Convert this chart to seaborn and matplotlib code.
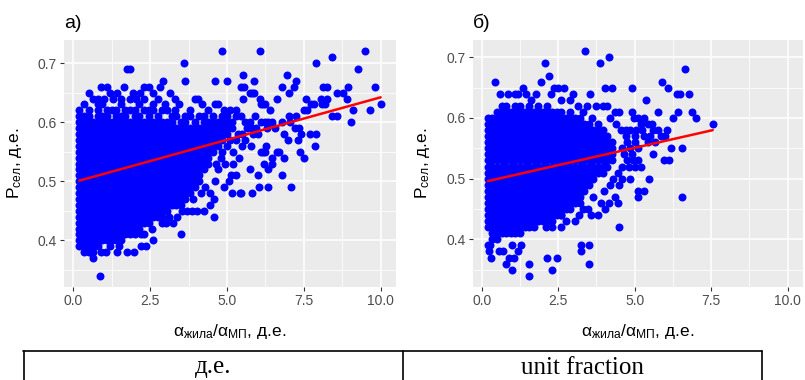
import numpy as np
import pandas as pd
import matplotlib
matplotlib.use("Agg")
import matplotlib.pyplot as plt
import seaborn as sns
from matplotlib.lines import Line2D
from matplotlib.ticker import FixedLocator

# ---------------- data ----------------
# dense vertical stacks: x position, lowest and highest y (in hundredths, y is quantised to 0.01)
a_run_x = [0.20, 0.35, 0.50, 0.65, 0.80, 0.95, 1.10, 1.25, 1.40, 1.55, 1.70, 1.85, 2.00, 2.15,
           2.30, 2.45, 2.60, 2.75, 2.90, 3.05, 3.20, 3.35, 3.50, 3.65, 3.80, 3.95, 4.10, 4.25,
           4.40, 4.55, 4.70, 4.85, 5.00, 5.15]
a_run_lo = [39, 38, 38, 38, 39, 40, 40, 40, 40, 40, 41, 41, 41, 42, 43, 44, 44, 45, 44, 45, 46, 46,
            46, 47, 48, 49, 50, 52, 53, 55, 56, 57, 58, 59]
a_run_hi = [62, 61, 62, 60, 63, 61, 62, 60, 62, 61, 62, 60, 62, 61, 60, 62, 60, 61, 60, 60, 61, 59,
            60, 61, 59, 60, 59, 61, 60, 61, 60, 61, 61, 60]

a_pts_x = [0.54, 0.65, 0.87, 0.90, 1.06, 1.20, 1.41, 1.50, 1.76, 1.97, 2.19, 2.38, 2.60, 2.30, 2.56,
           2.20, 2.45, 2.75, 3.03, 3.25, 3.39, 3.50, 3.10, 2.90, 3.55, 3.70, 3.85, 4.02, 4.24, 4.44,
           4.58, 4.58, 3.90, 4.15, 4.30, 4.45, 4.60, 4.70, 4.65, 4.80, 4.92, 5.16, 5.06, 5.12, 5.31,
           4.85, 5.00, 5.20, 5.30, 5.10, 5.40, 4.95, 5.20, 5.50, 5.35, 5.50, 5.65, 5.80, 5.95, 5.60,
           5.75, 5.30, 5.45, 5.90, 6.10,
           0.50, 0.65, 0.82, 0.89, 1.00, 1.10, 1.19, 1.30, 1.41, 1.55, 1.66, 1.75, 1.85, 1.85, 1.93,
           2.05, 2.16, 2.29, 2.30, 2.46, 2.60, 2.60, 2.75, 2.81, 2.92, 3.00, 3.16, 3.30, 3.30, 3.45,
           3.59, 3.65, 3.80, 3.95, 4.05, 4.20, 4.40, 4.60, 4.70, 4.85, 5.01, 4.60, 4.90, 5.10, 5.30,
           5.52, 5.45, 5.55, 5.52, 5.74, 5.81, 5.88, 5.88, 6.06, 6.07, 6.10, 6.17, 6.25, 6.40, 6.64,
           6.79, 6.94, 7.03, 7.18, 7.24, 7.56, 7.52, 7.59, 7.75, 7.84, 7.91, 8.06, 8.10, 8.13, 8.20,
           8.24, 8.26, 8.41, 8.43, 8.58, 8.58, 8.76, 8.89, 8.93, 9.04, 9.10, 9.28, 9.48, 9.64, 9.83,
           10.00,
           6.25, 6.35, 6.45, 6.30, 6.55, 6.80, 7.05, 7.03, 7.26, 7.20, 7.35, 6.87, 7.42, 7.70, 7.90,
           6.99, 7.30, 5.77, 5.58, 5.85, 6.00, 6.27, 7.85, 6.10, 6.17, 6.25, 6.64, 6.71, 7.37, 6.48,
           6.85, 7.50, 6.48, 6.20, 5.74, 6.00, 6.79, 6.03, 6.34, 7.07, 5.83, 5.41, 5.45, 6.34,
           0.35, 0.95, 1.25, 1.55, 1.85, 2.15, 2.30, 2.60, 2.90, 3.05, 3.35, 3.80, 4.10]
a_pts_y = [0.38, 0.37, 0.34, 0.38, 0.38, 0.39, 0.38, 0.39, 0.38, 0.38, 0.39, 0.39, 0.40, 0.41, 0.42,
           0.41, 0.43, 0.44, 0.43, 0.43, 0.44, 0.41, 0.44, 0.43, 0.45, 0.45, 0.45, 0.45, 0.45, 0.46,
           0.44, 0.47, 0.47, 0.48, 0.49, 0.48, 0.50, 0.52, 0.53, 0.54, 0.49, 0.48, 0.50, 0.51, 0.51,
           0.55, 0.56, 0.55, 0.57, 0.57, 0.54, 0.53, 0.53, 0.56, 0.58, 0.58, 0.59, 0.59, 0.59, 0.60,
           0.60, 0.61, 0.61, 0.61, 0.60,
           0.65, 0.64, 0.64, 0.66, 0.64, 0.66, 0.65, 0.64, 0.65, 0.64, 0.66, 0.69, 0.69, 0.64, 0.65,
           0.64, 0.65, 0.66, 0.64, 0.66, 0.63, 0.65, 0.64, 0.66, 0.67, 0.63, 0.65, 0.62, 0.64, 0.63,
           0.70, 0.67, 0.62, 0.64, 0.64, 0.63, 0.62, 0.67, 0.63, 0.72, 0.67, 0.63, 0.62, 0.62, 0.62,
           0.64, 0.66, 0.66, 0.68, 0.65, 0.65, 0.65, 0.67, 0.64, 0.72, 0.63, 0.63, 0.63, 0.62, 0.64,
           0.66, 0.68, 0.65, 0.66, 0.67, 0.64, 0.62, 0.62, 0.63, 0.63, 0.70, 0.64, 0.63, 0.66, 0.63,
           0.66, 0.64, 0.71, 0.61, 0.61, 0.65, 0.65, 0.64, 0.66, 0.60, 0.62, 0.69, 0.72, 0.62, 0.66,
           0.63,
           0.60, 0.60, 0.60, 0.59, 0.59, 0.60, 0.60, 0.61, 0.61, 0.59, 0.59, 0.58, 0.58, 0.58, 0.58,
           0.57, 0.57, 0.56, 0.57, 0.58, 0.58, 0.56, 0.56, 0.55, 0.55, 0.55, 0.55, 0.55, 0.55, 0.54,
           0.54, 0.54, 0.53, 0.53, 0.52, 0.51, 0.51, 0.49, 0.49, 0.49, 0.48, 0.48, 0.48, 0.52,
           0.63, 0.63, 0.62, 0.63, 0.62, 0.63, 0.62, 0.62, 0.62, 0.62, 0.61, 0.61, 0.61]

b_run_x = [0.20, 0.35, 0.50, 0.65, 0.80, 0.95, 1.10, 1.25, 1.40, 1.55, 1.70, 1.85, 2.00, 2.15,
           2.30, 2.45, 2.60, 2.75, 2.90, 3.05, 3.20, 3.35, 3.50, 3.65, 3.80, 3.95, 4.10, 4.25]
b_run_lo = [42, 41, 40, 41, 41, 41, 41, 41, 42, 42, 42, 43, 43, 43, 43, 44, 44, 45, 45, 46, 46, 48,
            49, 50, 51, 51, 52, 53]
b_run_hi = [60, 60, 61, 62, 62, 61, 62, 62, 61, 62, 61, 62, 61, 62, 61, 61, 61, 60, 61, 60, 60, 59,
            59, 58, 59, 58, 57, 56]

b_pts_x = [0.22, 0.27, 0.25, 0.30, 0.35, 0.55, 0.70, 0.81, 0.90, 0.99, 1.06, 1.00, 1.20, 1.30,
           1.53, 1.53, 2.13, 2.29, 2.45, 2.10, 2.30, 2.58, 2.75, 2.60, 3.05, 3.18, 3.30, 3.24, 3.50,
           3.24, 3.50, 3.47, 3.56, 3.80, 3.65, 3.90, 4.03, 4.16, 4.45, 4.50, 4.00, 4.20, 4.35, 4.30,
           4.50, 4.45, 4.60, 4.60, 4.80, 4.85, 4.75, 4.95, 5.10, 5.00, 5.20, 5.46, 5.31, 5.11, 5.11,
           0.43, 0.60, 0.85, 1.10, 1.20, 1.35, 1.45, 1.60, 1.78, 1.93, 2.07, 2.20, 2.25, 2.35, 2.50,
           2.70, 2.60, 2.90, 3.00, 3.15, 3.36, 3.30, 3.45, 3.55, 3.60, 3.75, 3.87, 4.03, 4.16, 4.27,
           3.95, 4.10, 4.20, 4.35, 4.50, 4.40, 4.55, 4.70, 4.85, 4.90, 4.90, 4.98, 5.05, 5.20, 5.25,
           5.37, 5.45, 5.50, 5.66, 5.60, 5.77, 5.90, 6.09, 6.25, 6.41, 6.39, 6.47, 6.63, 6.76, 6.87,
           7.01, 7.56,
           4.60, 4.75, 4.85, 5.00, 5.10, 5.30, 5.45, 4.70, 5.00, 4.65, 4.90, 5.95, 6.13, 6.19, 6.53,
           6.54, 5.60, 5.75, 5.85, 6.00, 6.05, 5.55, 5.30, 5.10]
b_pts_y = [0.39, 0.39, 0.38, 0.37, 0.40, 0.38, 0.38, 0.36, 0.37, 0.35, 0.37, 0.39, 0.38, 0.39,
           0.36, 0.34, 0.37, 0.35, 0.37, 0.42, 0.42, 0.42, 0.43, 0.44, 0.43, 0.44, 0.45, 0.39, 0.39,
           0.38, 0.36, 0.45, 0.44, 0.44, 0.47, 0.46, 0.45, 0.46, 0.46, 0.42, 0.48, 0.49, 0.47, 0.50,
           0.49, 0.51, 0.50, 0.52, 0.52, 0.50, 0.53, 0.53, 0.53, 0.52, 0.52, 0.50, 0.48, 0.48, 0.47,
           0.66, 0.64, 0.64, 0.64, 0.64, 0.65, 0.64, 0.63, 0.64, 0.66, 0.69, 0.67, 0.64, 0.65, 0.65,
           0.65, 0.63, 0.63, 0.64, 0.62, 0.71, 0.61, 0.62, 0.64, 0.60, 0.62, 0.69, 0.65, 0.70, 0.65,
           0.62, 0.62, 0.60, 0.61, 0.61, 0.59, 0.58, 0.58, 0.58, 0.61, 0.65, 0.60, 0.58, 0.59, 0.58,
           0.63, 0.59, 0.57, 0.56, 0.54, 0.61, 0.66, 0.65, 0.60, 0.61, 0.64, 0.64, 0.68, 0.64, 0.61,
           0.60, 0.59,
           0.55, 0.56, 0.55, 0.56, 0.55, 0.57, 0.56, 0.57, 0.57, 0.54, 0.54, 0.53, 0.53, 0.55, 0.55,
           0.47, 0.58, 0.58, 0.57, 0.57, 0.58, 0.59, 0.60, 0.60]

# fitted lines (end points)
a_line_x = [0.2, 10.0]
a_line_y = [0.501, 0.642]
b_line_x = [0.2, 7.55]
b_line_y = [0.496, 0.580]

titles = ["а)", "б)"]
x_ticks = [0.0, 2.5, 5.0, 7.5, 10.0]
x_ticklabels = ["0.0", "2.5", "5.0", "7.5", "10.0"]
y_ticks = [0.4, 0.5, 0.6, 0.7]
y_ticklabels = ["0.4", "0.5", "0.6", "0.7"]
table_cells = ["д.е.", "unit fraction"]


def build(run_x, run_lo, run_hi, px, py):
    xs, ys = [], []
    for x, lo, hi in zip(run_x, run_lo, run_hi):
        for v in range(lo, hi + 1):
            xs.append(x)
            ys.append(v / 100)
    xs += list(px)
    ys += list(py)
    return pd.DataFrame({"x": xs, "y": ys})


df_a = build(a_run_x, a_run_lo, a_run_hi, a_pts_x, a_pts_y)
df_b = build(b_run_x, b_run_lo, b_run_hi, b_pts_x, b_pts_y)

# ---------------- style ----------------
sns.set_theme(style="darkgrid")
plt.rcParams["font.family"] = ["Liberation Sans", "DejaVu Sans"]
plt.rcParams["mathtext.fontset"] = "custom"
plt.rcParams["mathtext.rm"] = "Liberation Sans"
plt.rcParams["mathtext.it"] = "Liberation Sans:italic"
plt.rcParams["mathtext.bf"] = "Liberation Sans:bold"

W, H = 805, 380
fig = plt.figure(figsize=(W / 100, H / 100), dpi=100)
fig.patch.set_facecolor("white")

panels = [
    (df_a, a_line_x, a_line_y, (64, 396), (0.321, 0.739)),
    (df_b, b_line_x, b_line_y, (472.5, 803), (0.3215, 0.7285)),
]
top_px, bot_px = 40, 287

xlabel = r"$\mathrm{\alpha_{жила}/\alpha_{МП}}$, д.е."
ylabel = r"$\mathrm{P_{сел}}$, д.е."

for i, (df, lx, ly, (l, r), ylim) in enumerate(panels):
    ax = fig.add_axes([l / W, 1 - bot_px / H, (r - l) / W, (bot_px - top_px) / H])
    ax.set_facecolor("#EBEBEB")
    sns.scatterplot(data=df, x="x", y="y", color="#0000FF", s=33, linewidth=0,
                    ax=ax, zorder=2, legend=False)
    sns.lineplot(x=lx, y=ly, color="#FF0000", linewidth=1.8, ax=ax, zorder=3)
    ax.set_xlim(-0.3, 10.5)
    ax.set_ylim(*ylim)
    ax.xaxis.set_major_locator(FixedLocator(x_ticks))
    ax.set_xticklabels(x_ticklabels)
    ax.yaxis.set_major_locator(FixedLocator(y_ticks))
    ax.set_yticklabels(y_ticklabels)
    ax.xaxis.set_minor_locator(FixedLocator([1.25, 3.75, 6.25, 8.75]))
    ax.yaxis.set_minor_locator(FixedLocator([0.35, 0.45, 0.55, 0.65]))
    ax.grid(which="major", color="white", linewidth=1.1)
    ax.grid(which="minor", color="white", linewidth=0.55)
    ax.set_axisbelow(True)
    for s in ax.spines.values():
        s.set_visible(False)
    ax.tick_params(which="major", length=3, width=0.8, color="#333333",
                   labelsize=10, labelcolor="#4D4D4D", pad=2, bottom=True, left=True)
    ax.tick_params(which="minor", length=0)
    ax.set_xlabel(xlabel, fontsize=12.5, color="black", va="center")
    ax.xaxis.set_label_coords(0.5, -0.18)
    ax.set_ylabel(ylabel, fontsize=12.5, color="black", va="center")
    ax.yaxis.set_label_coords(-0.15, 0.5)
    ax.set_title(titles[i], loc="left", fontsize=14, pad=9, color="black")

# ---------------- table strip at the bottom ----------------
y_top = 1 - 350.5 / H
lw = 1.2
fig.add_artist(Line2D([23 / W, 762 / W], [y_top, y_top], color="black", linewidth=lw))
for xp in (23.5, 402.5, 761.5):
    fig.add_artist(Line2D([xp / W, xp / W], [0, y_top], color="black", linewidth=lw))
fig.text(213 / W, 1 - 373.5 / H, table_cells[0], ha="center", va="baseline",
         fontsize=18, family=["Liberation Serif", "DejaVu Serif"], color="black")
fig.text(582 / W, 1 - 374 / H, table_cells[1], ha="center", va="baseline",
         fontsize=18, family=["Liberation Serif", "DejaVu Serif"], color="black")

fig.savefig("out.png", dpi=100)
